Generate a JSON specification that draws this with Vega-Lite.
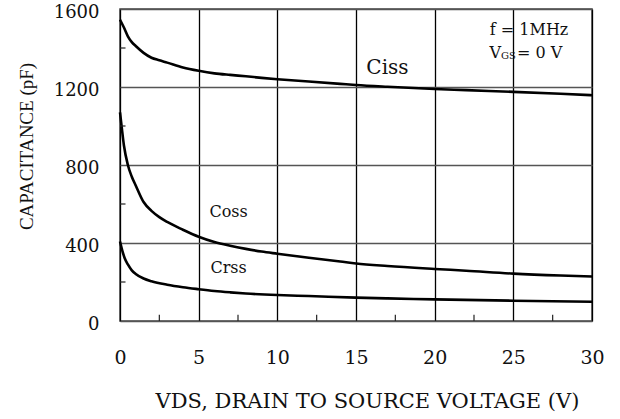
{
  "$schema": "https://vega.github.io/schema/vega-lite/v6.json",
  "width": 472,
  "height": 312,
  "autosize": {"type": "none"},
  "padding": {"left": 120, "top": 9, "right": 28, "bottom": 98},
  "background": "white",
  "config": {
    "view": {"stroke": "#444", "strokeWidth": 1.5},
    "font": "DejaVu Serif"
  },
  "datasets": {
    "curves": [
      {"vds": 0, "cap": 1545, "series": "Ciss"},
      {"vds": 0.25, "cap": 1505, "series": "Ciss"},
      {"vds": 0.5, "cap": 1460, "series": "Ciss"},
      {"vds": 0.75, "cap": 1430, "series": "Ciss"},
      {"vds": 1, "cap": 1410, "series": "Ciss"},
      {"vds": 1.5, "cap": 1375, "series": "Ciss"},
      {"vds": 2, "cap": 1350, "series": "Ciss"},
      {"vds": 2.5, "cap": 1337, "series": "Ciss"},
      {"vds": 3, "cap": 1325, "series": "Ciss"},
      {"vds": 4, "cap": 1300, "series": "Ciss"},
      {"vds": 5, "cap": 1283, "series": "Ciss"},
      {"vds": 6, "cap": 1270, "series": "Ciss"},
      {"vds": 7, "cap": 1262, "series": "Ciss"},
      {"vds": 8, "cap": 1255, "series": "Ciss"},
      {"vds": 9, "cap": 1247, "series": "Ciss"},
      {"vds": 10, "cap": 1240, "series": "Ciss"},
      {"vds": 12, "cap": 1228, "series": "Ciss"},
      {"vds": 14, "cap": 1216, "series": "Ciss"},
      {"vds": 15, "cap": 1210, "series": "Ciss"},
      {"vds": 17, "cap": 1201, "series": "Ciss"},
      {"vds": 20, "cap": 1190, "series": "Ciss"},
      {"vds": 22, "cap": 1184, "series": "Ciss"},
      {"vds": 25, "cap": 1175, "series": "Ciss"},
      {"vds": 28, "cap": 1165, "series": "Ciss"},
      {"vds": 30, "cap": 1158, "series": "Ciss"},
      {"vds": 0, "cap": 1070, "series": "Coss"},
      {"vds": 0.1, "cap": 1000, "series": "Coss"},
      {"vds": 0.25, "cap": 900, "series": "Coss"},
      {"vds": 0.5, "cap": 800, "series": "Coss"},
      {"vds": 0.75, "cap": 740, "series": "Coss"},
      {"vds": 1, "cap": 695, "series": "Coss"},
      {"vds": 1.5, "cap": 610, "series": "Coss"},
      {"vds": 2, "cap": 565, "series": "Coss"},
      {"vds": 2.5, "cap": 533, "series": "Coss"},
      {"vds": 3, "cap": 508, "series": "Coss"},
      {"vds": 4, "cap": 468, "series": "Coss"},
      {"vds": 5, "cap": 432, "series": "Coss"},
      {"vds": 6, "cap": 405, "series": "Coss"},
      {"vds": 7, "cap": 386, "series": "Coss"},
      {"vds": 8, "cap": 370, "series": "Coss"},
      {"vds": 9, "cap": 356, "series": "Coss"},
      {"vds": 10, "cap": 345, "series": "Coss"},
      {"vds": 12, "cap": 324, "series": "Coss"},
      {"vds": 14, "cap": 305, "series": "Coss"},
      {"vds": 15, "cap": 295, "series": "Coss"},
      {"vds": 17, "cap": 282, "series": "Coss"},
      {"vds": 20, "cap": 267, "series": "Coss"},
      {"vds": 22, "cap": 258, "series": "Coss"},
      {"vds": 25, "cap": 243, "series": "Coss"},
      {"vds": 28, "cap": 233, "series": "Coss"},
      {"vds": 30, "cap": 228, "series": "Coss"},
      {"vds": 0, "cap": 408, "series": "Crss"},
      {"vds": 0.15, "cap": 360, "series": "Crss"},
      {"vds": 0.3, "cap": 322, "series": "Crss"},
      {"vds": 0.5, "cap": 290, "series": "Crss"},
      {"vds": 0.75, "cap": 260, "series": "Crss"},
      {"vds": 1, "cap": 241, "series": "Crss"},
      {"vds": 1.5, "cap": 218, "series": "Crss"},
      {"vds": 2, "cap": 204, "series": "Crss"},
      {"vds": 3, "cap": 186, "series": "Crss"},
      {"vds": 4, "cap": 173, "series": "Crss"},
      {"vds": 5, "cap": 163, "series": "Crss"},
      {"vds": 6, "cap": 154, "series": "Crss"},
      {"vds": 7, "cap": 147, "series": "Crss"},
      {"vds": 8, "cap": 141, "series": "Crss"},
      {"vds": 10, "cap": 133, "series": "Crss"},
      {"vds": 12, "cap": 128, "series": "Crss"},
      {"vds": 15, "cap": 120, "series": "Crss"},
      {"vds": 17, "cap": 116, "series": "Crss"},
      {"vds": 20, "cap": 111, "series": "Crss"},
      {"vds": 25, "cap": 104, "series": "Crss"},
      {"vds": 30, "cap": 99, "series": "Crss"}
    ],
    "xminor": [
      {"v": 2.5, "lo": 0, "hi": 32},
      {"v": 7.5, "lo": 0, "hi": 32},
      {"v": 12.5, "lo": 0, "hi": 32},
      {"v": 17.5, "lo": 0, "hi": 32},
      {"v": 22.5, "lo": 0, "hi": 32},
      {"v": 27.5, "lo": 0, "hi": 32}
    ],
    "yminor": [
      {"v": 200, "lo": 0, "hi": 0.35},
      {"v": 600, "lo": 0, "hi": 0.35},
      {"v": 1000, "lo": 0, "hi": 0.35},
      {"v": 1400, "lo": 0, "hi": 0.35}
    ],
    "labels": [
      {"x": 17.0, "y": 1298, "text": "Ciss", "size": 20},
      {"x": 6.9, "y": 560, "text": "Coss", "size": 16},
      {"x": 6.9, "y": 270, "text": "Crss", "size": 16},
      {"x": 26.0, "y": 1493, "text": "f = 1MHz", "size": 16}
    ]
  },
  "layer": [
    {
      "data": {"name": "curves"},
      "mark": {"type": "line", "color": "#000", "strokeWidth": 2.6, "interpolate": "monotone"},
      "encoding": {
        "x": {
          "field": "vds",
          "type": "quantitative",
          "scale": {"domain": [0, 30], "nice": false},
          "axis": {
            "values": [0, 5, 10, 15, 20, 25, 30],
            "title": "VDS, DRAIN TO SOURCE VOLTAGE (V)",
            "grid": true,
            "gridColor": "#000",
            "gridWidth": 1.3,
            "gridOpacity": 1,
            "domain": false,
            "ticks": false,
            "labelFlush": false,
            "labelPadding": 27,
            "labelFontSize": 19,
            "labelFont": "DejaVu Serif",
            "labelColor": "#111",
            "titleFont": "DejaVu Serif",
            "titleFontSize": 21,
            "titleFontWeight": "normal",
            "titleColor": "#111",
            "titlePadding": 23,
            "titleX": 247,
            "titleAlign": "center"
          }
        },
        "y": {
          "field": "cap",
          "type": "quantitative",
          "scale": {"domain": [0, 1600], "nice": false},
          "axis": {
            "values": [0, 400, 800, 1200, 1600],
            "format": "d",
            "title": "CAPACITANCE (pF)",
            "grid": true,
            "gridColor": "#555",
            "gridWidth": 1.3,
            "gridOpacity": 1,
            "domain": false,
            "ticks": false,
            "labelFlush": false,
            "labelOffset": 3,
            "labelPadding": 21,
            "labelFontSize": 18,
            "labelFont": "DejaVu Serif",
            "labelColor": "#111",
            "titleFont": "Liberation Serif",
            "titleFontSize": 19,
            "titleFontWeight": "normal",
            "titleColor": "#111",
            "titleX": -94,
            "titleY": 137,
            "titleBaseline": "middle",
            "titleAlign": "center",
            "titleAngle": -90
          }
        },
        "detail": {"field": "series", "type": "nominal"}
      }
    },
    {
      "data": {"name": "xminor"},
      "mark": {"type": "rule", "color": "#222", "strokeWidth": 1.2},
      "encoding": {
        "x": {"field": "v", "type": "quantitative"},
        "y": {"field": "lo", "type": "quantitative"},
        "y2": {"field": "hi"}
      }
    },
    {
      "data": {"name": "yminor"},
      "mark": {"type": "rule", "color": "#222", "strokeWidth": 1.2},
      "encoding": {
        "y": {"field": "v", "type": "quantitative"},
        "x": {"field": "lo", "type": "quantitative"},
        "x2": {"field": "hi"}
      }
    },
    {
      "data": {"name": "labels"},
      "mark": {"type": "text", "color": "#111", "font": "DejaVu Serif", "align": "center", "baseline": "middle"},
      "encoding": {
        "x": {"field": "x", "type": "quantitative"},
        "y": {"field": "y", "type": "quantitative"},
        "text": {"field": "text"},
        "size": {"field": "size", "type": "quantitative", "scale": null}
      }
    },
    {
      "data": {"values": [{"x": 24.22, "y": 1375, "t": "V"}]},
      "mark": {"type": "text", "color": "#111", "font": "DejaVu Serif", "fontSize": 16, "align": "right", "baseline": "middle"},
      "encoding": {
        "x": {"field": "x", "type": "quantitative"},
        "y": {"field": "y", "type": "quantitative"},
        "text": {"field": "t"}
      }
    },
    {
      "data": {"values": [{"x": 24.22, "y": 1375, "t": "GS"}]},
      "mark": {"type": "text", "color": "#111", "font": "DejaVu Serif", "fontSize": 10, "align": "left", "baseline": "middle", "dy": 3},
      "encoding": {
        "x": {"field": "x", "type": "quantitative"},
        "y": {"field": "y", "type": "quantitative"},
        "text": {"field": "t"}
      }
    },
    {
      "data": {"values": [{"x": 25.24, "y": 1375, "t": "= 0 V"}]},
      "mark": {"type": "text", "color": "#111", "font": "DejaVu Serif", "fontSize": 16, "align": "left", "baseline": "middle"},
      "encoding": {
        "x": {"field": "x", "type": "quantitative"},
        "y": {"field": "y", "type": "quantitative"},
        "text": {"field": "t"}
      }
    }
  ]
}
